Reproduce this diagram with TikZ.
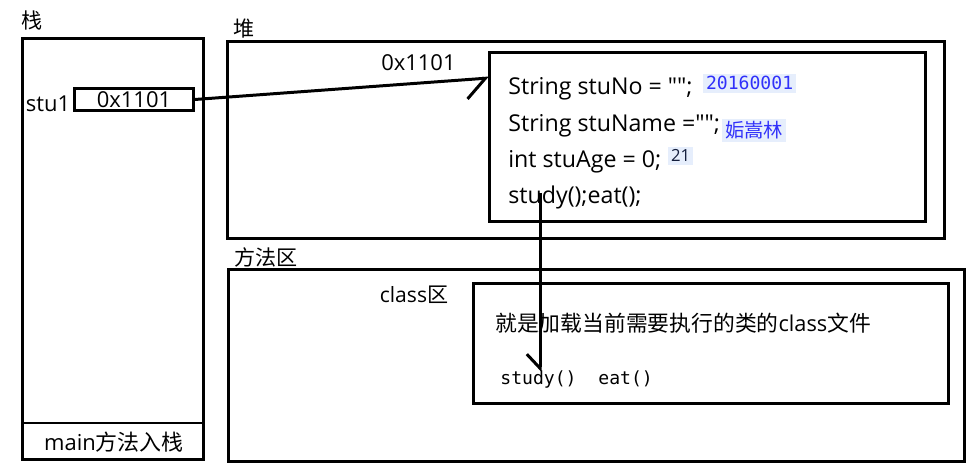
\documentclass[tikz,border=0pt]{standalone}
\usepackage{fontspec}
\setmainfont{Open Sans}[Ligatures=TeXOff]
\setmonofont{DejaVu Sans Mono}
\newfontfamily\cjk{Noto Sans CJK SC}
\usetikzlibrary{arrows.meta,positioning}

\definecolor{annoblue}{RGB}{48,48,250}
\definecolor{annobg}{RGB}{230,238,252}
\definecolor{annodark}{RGB}{20,30,60}

\tikzset{
	region/.style={draw, line width=1.7pt, inner sep=0pt, anchor=north west},
	lbl/.style={font=\fontsize{12.5}{15}\selectfont, inner sep=0pt},
	cjklbl/.style={font=\cjk\fontsize{12}{14}\selectfont, inner sep=0pt},
	code/.style={lbl, font=\fontsize{13.2}{15}\selectfont, anchor=base west},
	mono/.style={font=\ttfamily\fontsize{10.3}{12}\selectfont, inner sep=0pt},
	anno/.style={mono, fill=annobg, text=annoblue, inner sep=1.5pt, anchor=base west},
	ptr/.style={line width=1.7pt, -{Straight Barb[harpoon,swap,length=11pt,width=22pt]}},
	call/.style={line width=1.7pt, -{Straight Barb[harpoon,swap,length=8pt,width=15pt]}},
}

\begin{document}
\begin{tikzpicture}[x=0.02cm, y=-0.02cm]
	\useasboundingbox (0,0) rectangle (972,475);
	% stack
	\node[region, minimum width=3.62cm, minimum height=8.42cm] (stack) at (21,37) {};
	\node[cjklbl] (stacktitle) at (32,20) {栈};
	\coordinate (mainsplit) at (0,423);
	\draw[line width=1.7pt] (stack.west |- mainsplit) -- (stack.east |- mainsplit);
	\node[lbl] (mainlbl) at (114,442) {main{\cjk 方法入栈}};
	\node[lbl] (stu1) at (48,104) {stu1};
	\node[region, lbl, minimum width=2.38cm, minimum height=0.44cm] (ptrbox) at (73,87) {0x1101\hspace{6pt}};
	% heap
	\node[region, minimum width=14.34cm, minimum height=3.94cm] (heap) at (226,40) {};
	\node[cjklbl] (heaptitle) at (244,29) {堆};
	\node[region, minimum width=8.72cm, minimum height=3.38cm] (obj) at (488,51) {};
	\coordinate (ptrtip) at (489,78);
	\node[code] (f1) at (508,95) {String stuNo = "";};
	\node[anno] (v1) at (703,90) {20160001};
	\node[code] (f2) at (508,132) {String stuName ="";};
	\node[anno, font=\cjk\fontsize{11}{13}\selectfont] (v2) at (722,138) {姤嵩林};
	\node[code] (f3) at (508,168) {int stuAge = 0;};
	\node[anno, text=annodark, font=\fontsize{9.5}{11}\selectfont] (v3) at (668,162) {21};
	\node[code] (f4) at (508,204) {study();eat();};
	\coordinate (callsrc) at (540,193);
	% method area
	\node[region, minimum width=14.72cm, minimum height=3.84cm] (method) at (227,268) {};
	\node[cjklbl] (methodtitle) at (266,257) {方法区};
	\node[lbl, font=\fontsize{12}{14}\selectfont] (classtitle) at (414,295) {class{\cjk 区}};
	\node[region, minimum width=9.5cm, minimum height=2.4cm] (cls) at (472,282) {};
	\node[lbl, anchor=west, font=\fontsize{12.4}{14}\selectfont] (clsnote) at (495,323) {{\cjk 就是加载当前需要执行的类的}class{\cjk 文件}};
	\node[mono, anchor=base west] (clsmeth) at (500,385) {study()~~eat()};
	\coordinate (calldst) at (540,372);
	% pointers
	\draw[ptr] (ptrbox.east) -- (ptrtip) node[lbl, pos=0.76, above=6pt] (addr) {0x1101};
	\draw[call] (callsrc) -- (calldst);
\end{tikzpicture}
\end{document}
